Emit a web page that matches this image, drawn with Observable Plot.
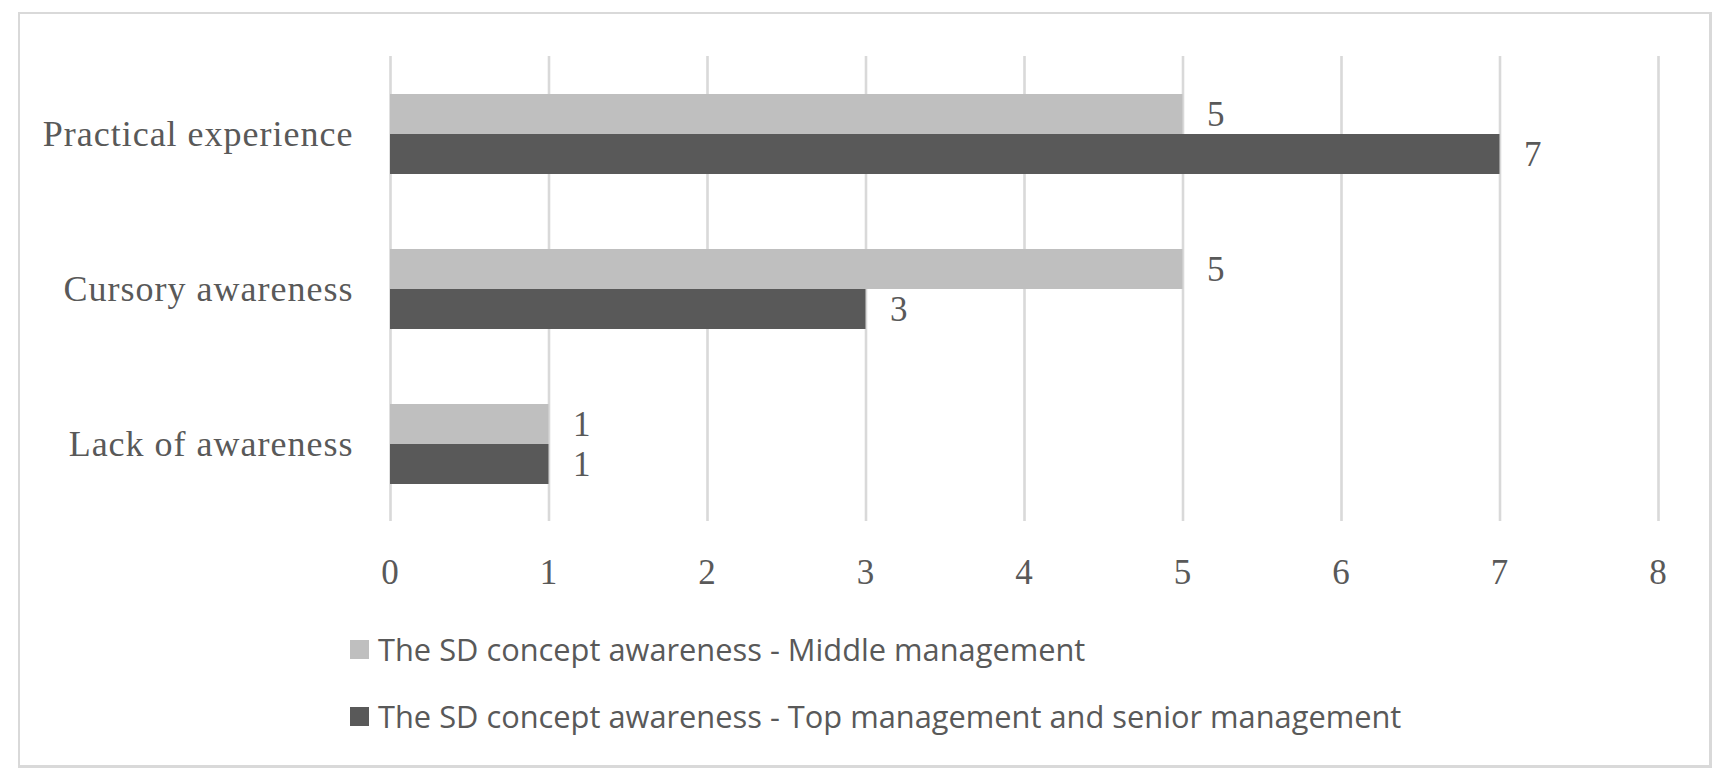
<!DOCTYPE html>
<html>
<head>
<meta charset="utf-8">
<script src="https://cdn.jsdelivr.net/npm/d3@7"></script>
<script src="https://cdn.jsdelivr.net/npm/@observablehq/plot@0.6"></script>
<style>
  html, body { margin: 0; padding: 0; background: #fff; width: 1728px; height: 784px; overflow: hidden; }
  #frame { position: absolute; left: 18px; top: 12px; width: 1694px; height: 756px; box-sizing: border-box; border: 2px solid #d9d9d9; border-right-width: 3px; border-bottom-width: 3px; z-index: 0; }
  #chart { position: absolute; left: 0; top: 0; z-index: 1; }
  #chart svg text { letter-spacing: 0.9px; }
  #chart svg g[aria-label="fy-axis tick label"] text { font-size: 36px; letter-spacing: 1px; }
  .legend { position: absolute; left: 350px; z-index: 2; font-family: "Open Sans", sans-serif; font-size: 30.8px; color: #595959; display: flex; align-items: center; white-space: nowrap; }
  .legend .sw { width: 19px; height: 19px; margin-right: 9px; }
</style>
</head>
<body>
<div id="frame"></div>
<div id="chart"></div>
<div id="legend"></div>
<script>
const categories = ["Practical experience", "Cursory awareness", "Lack of awareness"];
const seriesNames = [
  "The SD concept awareness - Middle management",
  "The SD concept awareness - Top management and senior management"
];
const middleValues = [5, 5, 1];
const topValues = [7, 3, 1];
const seriesColors = ["#bfbfbf", "#595959"];
const xTicks = [0, 1, 2, 3, 4, 5, 6, 7, 8];

const rows = [];
categories.forEach((c, i) => {
  rows.push({category: c, series: seriesNames[0], value: middleValues[i]});
  rows.push({category: c, series: seriesNames[1], value: topValues[i]});
});

const plot = Plot.plot({
  width: 1728,
  height: 620,
  marginTop: 55,
  marginBottom: 99,
  marginLeft: 390,
  marginRight: 70,
  style: {
    fontFamily: "'Liberation Serif', serif",
    fontSize: "35px",
    color: "#595959",
    background: "transparent",
    overflow: "visible"
  },
  x: {domain: [0, 8], ticks: xTicks, tickSize: 0, tickPadding: 38, tickFormat: d => String(d), label: null},
  y: {domain: seriesNames, axis: null, paddingInner: 0, paddingOuter: 0.92},
  fy: {domain: categories, padding: 0, axis: "left", tickSize: 0, tickPadding: 37, label: null},
  color: {domain: seriesNames, range: seriesColors, legend: false},
  marks: [
    Plot.ruleX(xTicks, {x: d => d, stroke: "#d9d9d9", strokeWidth: 2.6}),
    Plot.barX(rows, {x: "value", y: "series", fy: "category", fill: "series"}),
    Plot.text(rows, {x: "value", y: "series", fy: "category", text: d => String(d.value), textAnchor: "start", dx: 24, fill: "#595959", fontSize: 35})
  ]
});
document.getElementById("chart").appendChild(plot);

const legend = document.getElementById("legend");
const legendTops = [631, 698];
seriesNames.forEach((s, i) => {
  const row = document.createElement("div");
  row.className = "legend";
  row.style.top = legendTops[i] + "px";
  row.style.height = "36px";
  const sw = document.createElement("div");
  sw.className = "sw";
  sw.style.background = seriesColors[i];
  const t = document.createElement("span");
  t.textContent = s;
  row.appendChild(sw);
  row.appendChild(t);
  legend.appendChild(row);
});
</script>
</body>
</html>
